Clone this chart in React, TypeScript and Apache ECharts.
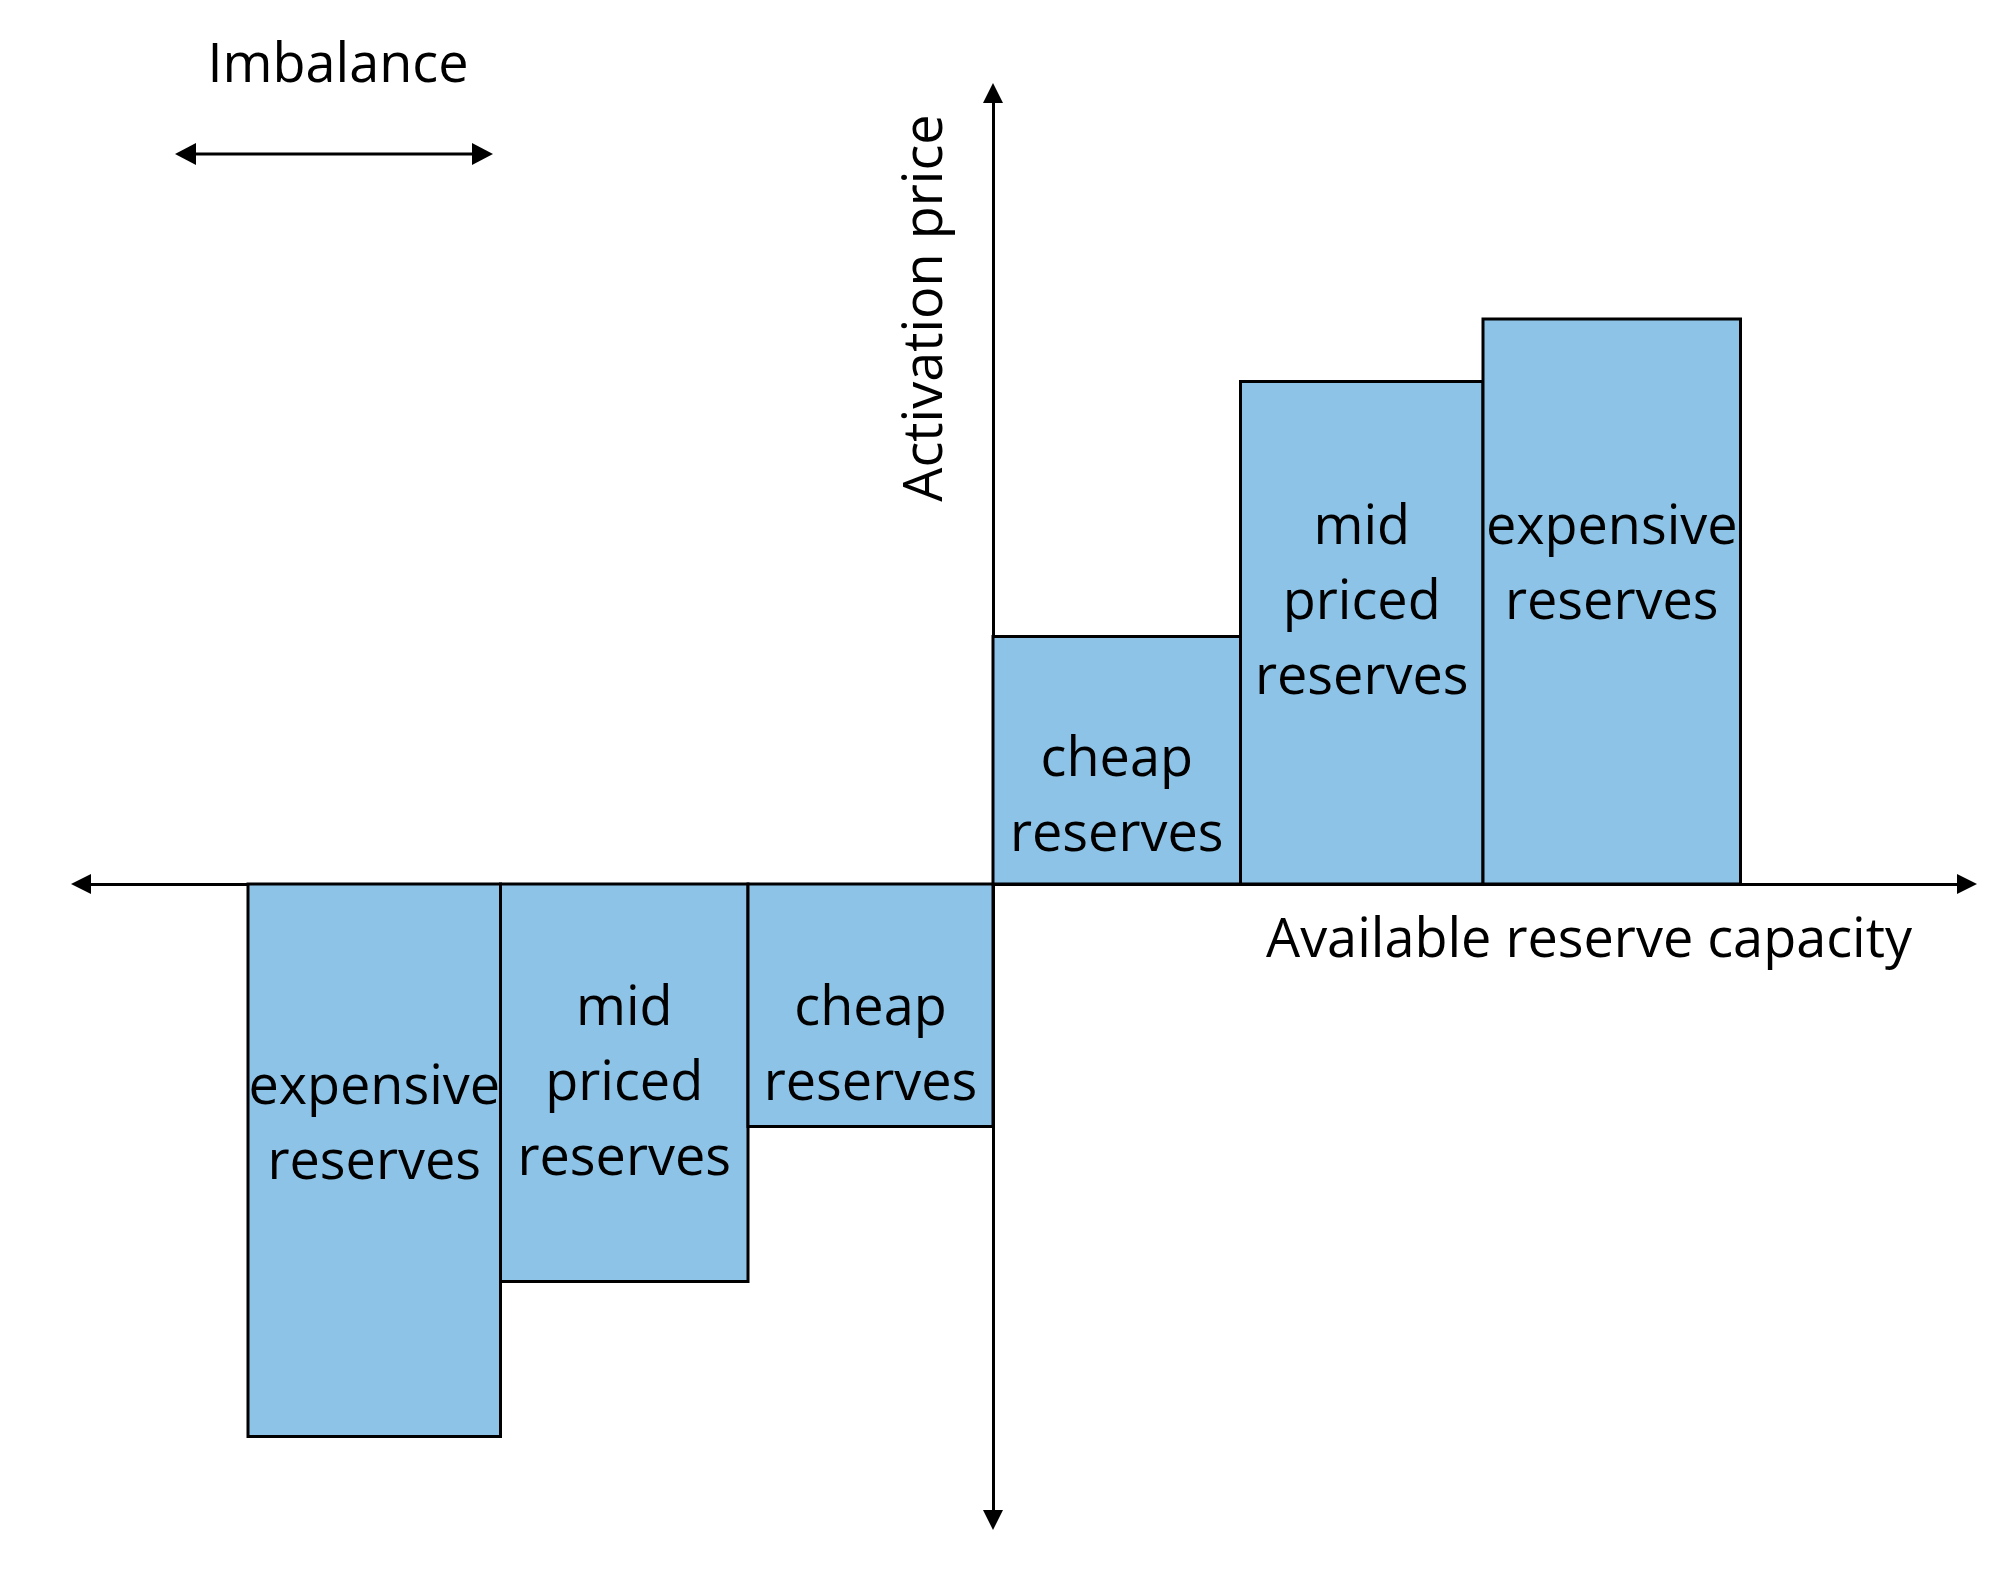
import React, { useEffect, useRef } from "react";
import * as echarts from "echarts";

// ---- data (arbitrary units) ----
const categories = [
  "expensive reserves",
  "mid priced reserves",
  "cheap reserves",
  "cheap reserves",
  "mid priced reserves",
  "expensive reserves",
];
const barLabels = [
  "expensive\nreserves",
  "mid\npriced\nreserves",
  "cheap\nreserves",
  "cheap\nreserves",
  "mid\npriced\nreserves",
  "expensive\nreserves",
];
const capacityStart = [-298, -197, -98, 0, 99, 196];
const capacityEnd = [-197, -98, 0, 99, 196, 299];
const activationPrice = [-221, -159, -97, 99, 201, 226];

const xTitle = "Available reserve capacity";
const yTitle = "Activation price";
const imbalanceTitle = "Imbalance";

// ---- layout / style ----
const FONT = '"Open Sans", "Noto Sans", sans-serif';
const FONT_SIZE = 54;
const LABEL_CENTER_Y = [1120, 1079, 1041, 792, 598, 560];
const BAR_FILL = "#8DC3E6";

export default function App() {
  const ref = useRef<HTMLDivElement>(null);

  useEffect(() => {
    if (!ref.current) return;
    const chart = echarts.init(ref.current, undefined, { renderer: "svg" });

    const axisLine = {
      onZero: true,
      symbol: ["triangle", "triangle"],
      symbolSize: [20, 20],
      lineStyle: { color: "#000", width: 3 },
    };

    const option: any = {
      animation: false,
      backgroundColor: "#ffffff",
      grid: { left: 81, right: 43, top: 93, bottom: 51 },
      xAxis: {
        type: "value",
        min: -364.8,
        max: 389.6,
        axisLine,
        axisTick: { show: false },
        axisLabel: { show: false },
        splitLine: { show: false },
      },
      yAxis: {
        type: "value",
        min: -254.4,
        max: 316.4,
        axisLine,
        axisTick: { show: false },
        axisLabel: { show: false },
        splitLine: { show: false },
      },
      series: [
        {
          type: "custom",
          clip: false,
          z: 3,
          encode: { x: [0, 1], y: 2 },
          data: categories.map((name, i) => ({
            name,
            value: [capacityStart[i], capacityEnd[i], activationPrice[i]],
          })),
          renderItem: (params: any, api: any) => {
            const i = params.dataIndex;
            const p0 = api.coord([api.value(0), 0]);
            const p1 = api.coord([api.value(1), api.value(2)]);
            const x = Math.min(p0[0], p1[0]);
            const y = Math.min(p0[1], p1[1]);
            const w = Math.abs(p1[0] - p0[0]);
            const h = Math.abs(p1[1] - p0[1]);
            return {
              type: "group",
              children: [
                {
                  type: "rect",
                  shape: { x, y, width: w, height: h },
                  style: { fill: BAR_FILL, stroke: "#000", lineWidth: 3 },
                },
                {
                  type: "text",
                  x: x + w / 2,
                  y: LABEL_CENTER_Y[i],
                  style: {
                    text: barLabels[i],
                    fill: "#000",
                    fontFamily: FONT,
                    fontSize: FONT_SIZE,
                    lineHeight: 75,
                    align: "center",
                    verticalAlign: "middle",
                  },
                },
              ],
            };
          },
        },
      ],
      graphic: [
        {
          type: "text",
          x: 338,
          y: 61,
          style: {
            text: imbalanceTitle,
            fill: "#000",
            fontFamily: FONT,
            fontSize: FONT_SIZE,
            align: "center",
            verticalAlign: "middle",
          },
        },
        {
          type: "line",
          shape: { x1: 190, y1: 154, x2: 478, y2: 154 },
          style: { stroke: "#000", lineWidth: 3 },
        },
        {
          type: "polygon",
          shape: { points: [[175, 154], [196, 143], [196, 165]] },
          style: { fill: "#000" },
        },
        {
          type: "polygon",
          shape: { points: [[493, 154], [472, 143], [472, 165]] },
          style: { fill: "#000" },
        },
        {
          type: "text",
          x: 921,
          y: 308,
          rotation: Math.PI / 2,
          style: {
            text: yTitle,
            fill: "#000",
            fontFamily: FONT,
            fontSize: FONT_SIZE,
            align: "center",
            verticalAlign: "middle",
          },
        },
        {
          type: "text",
          x: 1266,
          y: 936,
          style: {
            text: xTitle,
            fill: "#000",
            fontFamily: FONT,
            fontSize: FONT_SIZE,
            align: "left",
            verticalAlign: "middle",
          },
        },
      ],
    };

    chart.setOption(option);
    return () => chart.dispose();
  }, []);

  return (
    <div
      ref={ref}
      style={{ position: "absolute", left: 0, top: 0, width: 2010, height: 1571 }}
    />
  );
}
